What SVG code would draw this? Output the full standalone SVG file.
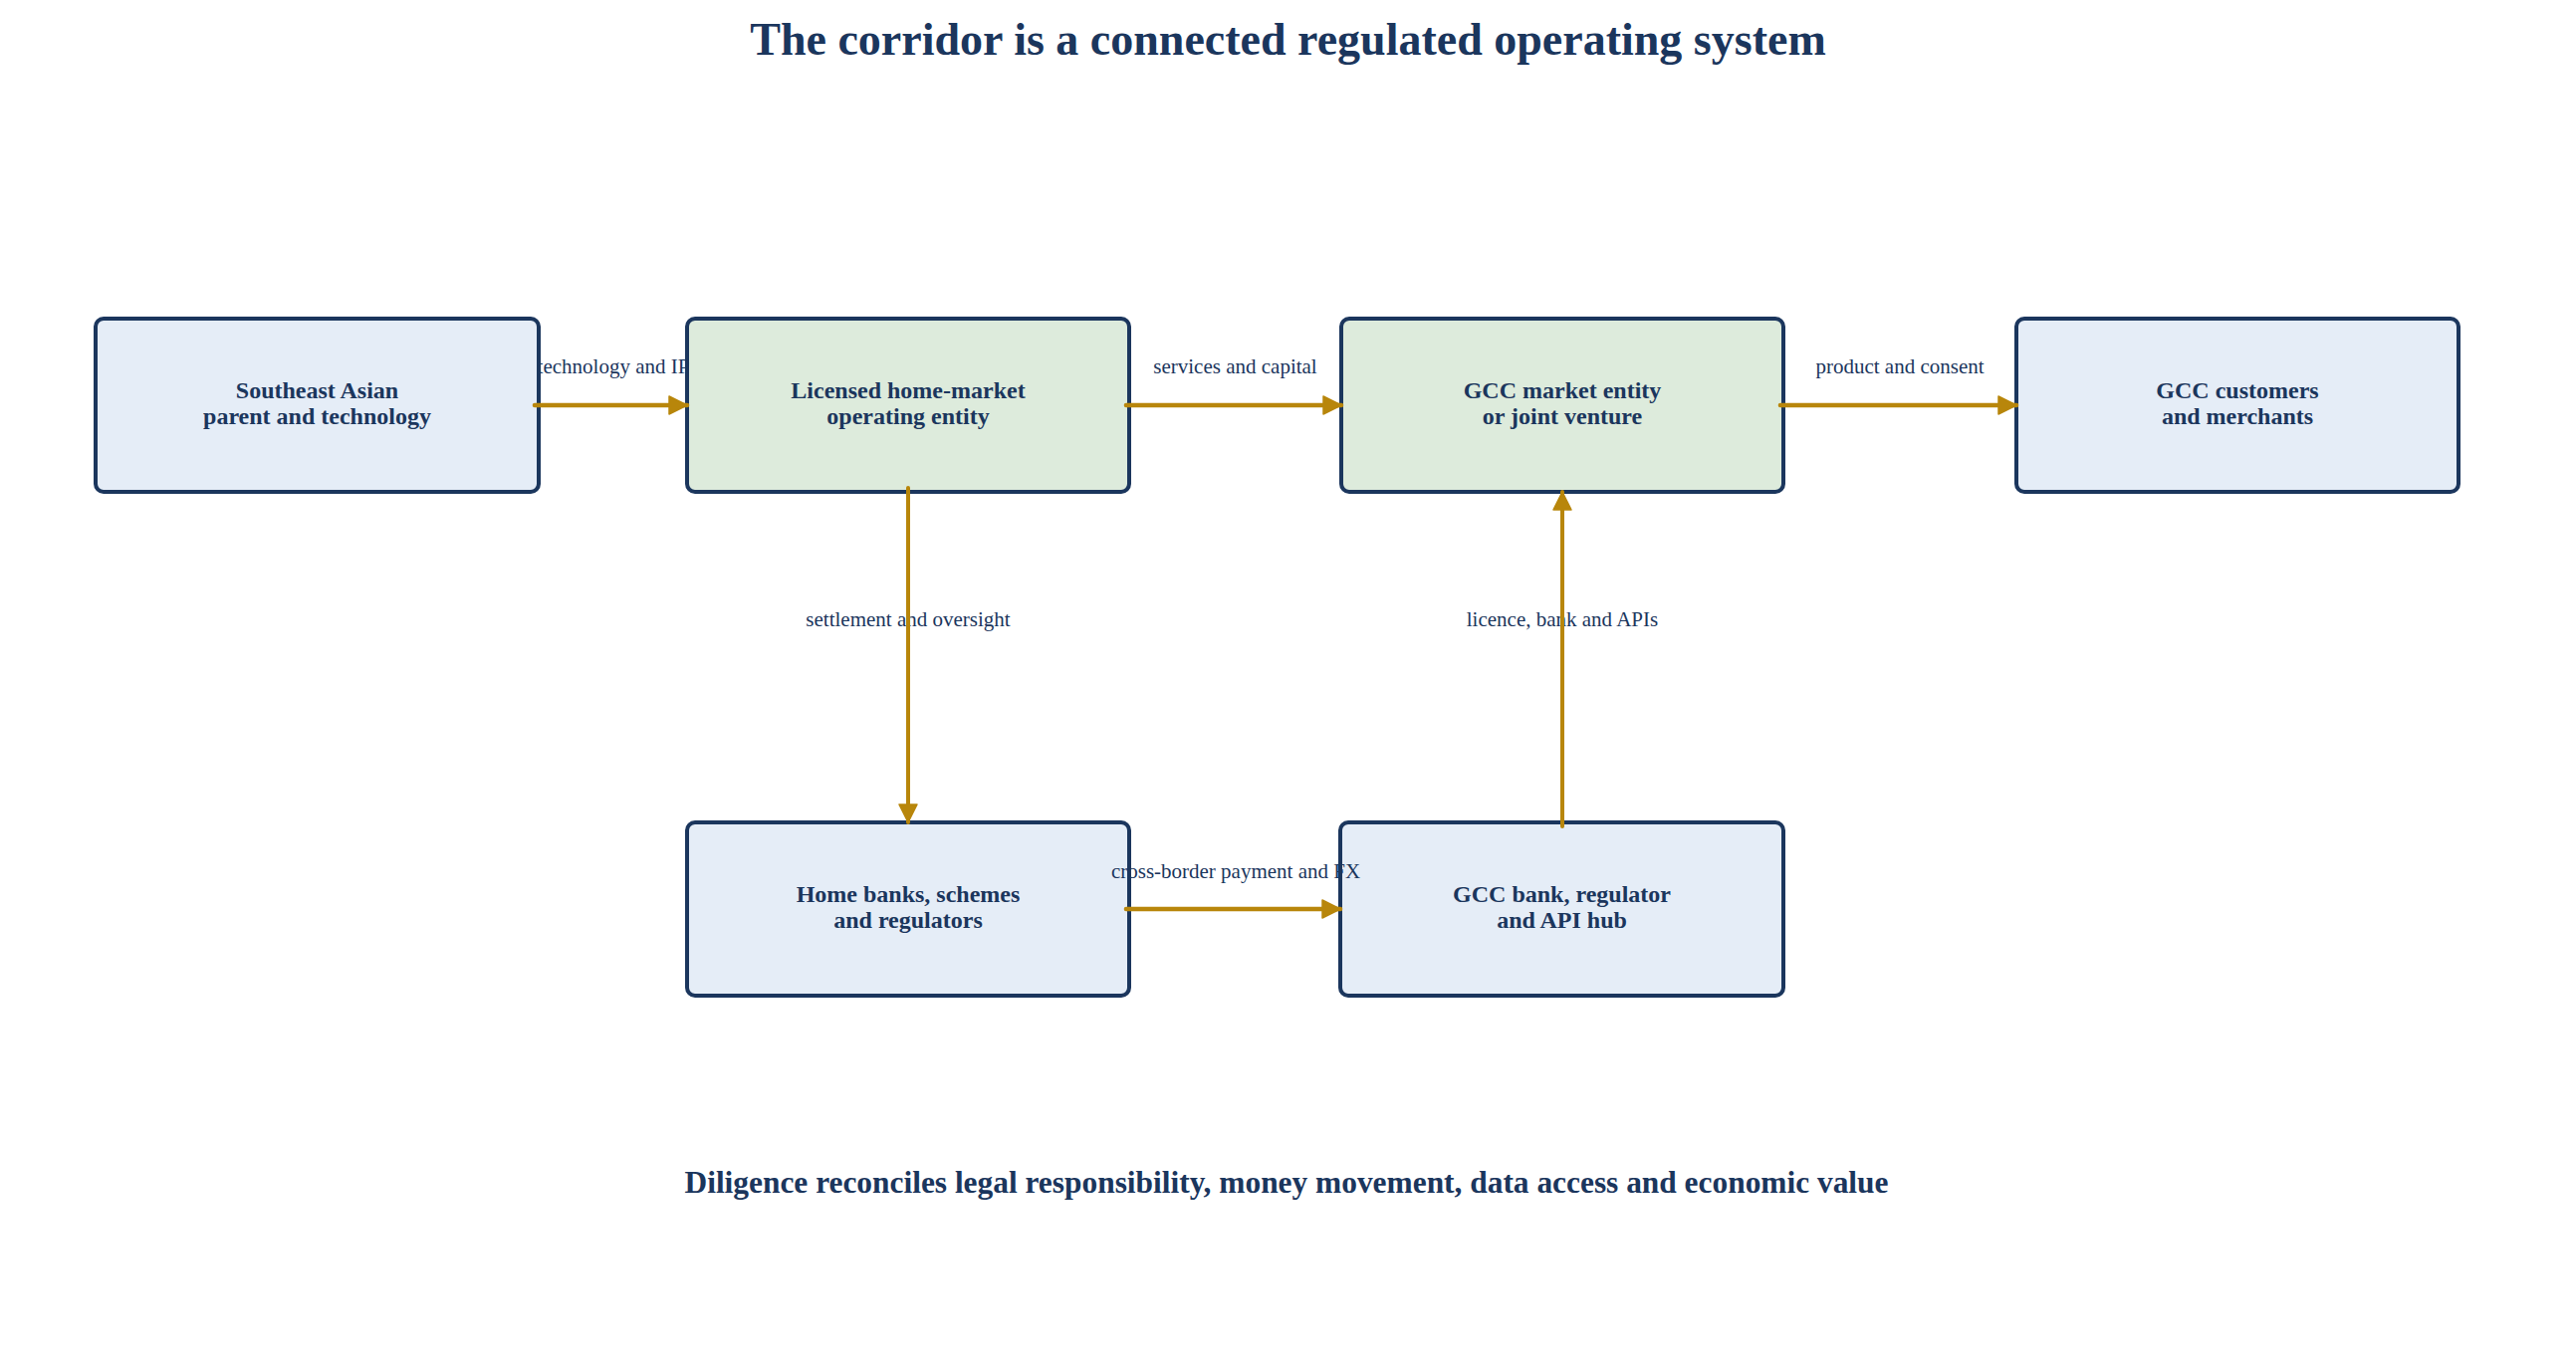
<svg xmlns="http://www.w3.org/2000/svg" width="2587" height="1378" viewBox="0 0 2587 1378">
<defs>
<style>
.node rect{stroke:#1b365d;stroke-width:4}
.blue rect{fill:#e5edf7}
.green rect{fill:#ddebdc}
.node text{font-family:"Liberation Serif","Times New Roman",serif;font-weight:bold;font-size:24px;fill:#1b365d;text-anchor:middle}
.edge{stroke:#b8860b;stroke-width:4;fill:none;stroke-linecap:round;marker-end:url(#arr)}
.h{stroke-width:4.6}
.lbl{font-family:"Liberation Serif","Times New Roman",serif;font-size:21px;fill:#1b365d;text-anchor:middle}
.title{font-family:"Liberation Serif","Times New Roman",serif;font-weight:bold;font-size:46px;fill:#1b365d;text-anchor:middle}
.foot{font-family:"Liberation Serif","Times New Roman",serif;font-weight:bold;font-size:31.4px;fill:#1b365d;text-anchor:middle}
</style>
<marker id="arr" markerUnits="userSpaceOnUse" markerWidth="24" markerHeight="24" refX="19" refY="10" orient="auto">
<path d="M1,1 L19,10 L1,19 z" fill="#b8860b" stroke="#b8860b" stroke-width="1.5" stroke-linejoin="round"/>
</marker>
</defs>
<rect width="2587" height="1378" fill="#ffffff"/>
<text class="title" x="1293.5" y="55">The corridor is a connected regulated operating system</text>
<g id="n1" class="node blue">
<rect x="96" y="320" width="445" height="174" rx="8"/>
<text x="318.5" y="399.5">Southeast Asian</text>
<text x="318.5" y="425.5">parent and technology</text>
</g>
<g id="n2" class="node green">
<rect x="690" y="320" width="444" height="174" rx="8"/>
<text x="912" y="399.5">Licensed home-market</text>
<text x="912" y="425.5">operating entity</text>
</g>
<g id="n3" class="node green">
<rect x="1347" y="320" width="444" height="174" rx="8"/>
<text x="1569" y="399.5">GCC market entity</text>
<text x="1569" y="425.5">or joint venture</text>
</g>
<g id="n4" class="node blue">
<rect x="2025" y="320" width="444" height="174" rx="8"/>
<text x="2247" y="399.5">GCC customers</text>
<text x="2247" y="425.5">and merchants</text>
</g>
<g id="n5" class="node blue">
<rect x="690" y="826" width="444" height="174" rx="8"/>
<text x="912" y="905.5">Home banks, schemes</text>
<text x="912" y="931.5">and regulators</text>
</g>
<g id="n6" class="node blue">
<rect x="1346" y="826" width="445" height="174" rx="8"/>
<text x="1568.5" y="905.5">GCC bank, regulator</text>
<text x="1568.5" y="931.5">and API hub</text>
</g>
<g id="connectors">
<text class="lbl" x="616" y="375">technology and IP</text>
<text class="lbl" x="1240.5" y="375">services and capital</text>
<text class="lbl" x="1908" y="375">product and consent</text>
<text class="lbl" x="912" y="628.5">settlement and oversight</text>
<text class="lbl" x="1569" y="628.5">licence, bank and APIs</text>
<text class="lbl" x="1241" y="882">cross-border payment and FX</text>
<line class="edge h" x1="537" y1="407" x2="690" y2="407"/>
<line class="edge h" x1="1131" y1="407" x2="1347" y2="407"/>
<line class="edge h" x1="1788" y1="407" x2="2025" y2="407"/>
<line class="edge" x1="912" y1="490" x2="912" y2="826"/>
<line class="edge h" x1="1131" y1="913" x2="1346" y2="913"/>
<line class="edge" x1="1569" y1="830" x2="1569" y2="494"/>
</g>
<text class="foot" x="1292" y="1198">Diligence reconciles legal responsibility, money movement, data access and economic value</text>
</svg>
